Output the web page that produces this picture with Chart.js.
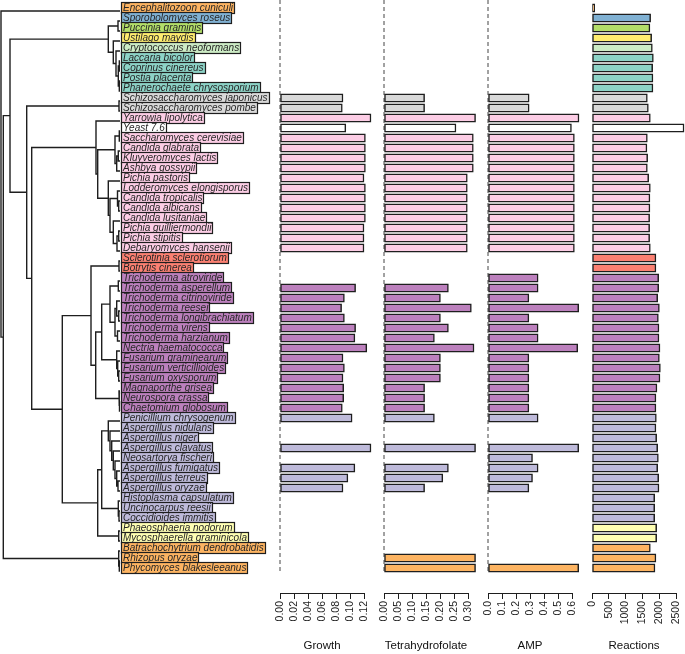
<!DOCTYPE html>
<html>
<head>
<meta charset="UTF-8" />
<title>Fungal models</title>
<script src="https://cdn.jsdelivr.net/npm/chart.js"></script>
<style>
  body { margin: 0; background: #fff; width: 685px; height: 654px; overflow: hidden; position: relative; }
  canvas { position: absolute; top: 0; }
</style>
</head>
<body>
<canvas id="tree" width="280" height="654" style="left:0px"></canvas>
<canvas id="growth" width="116" height="654" style="left:268px"></canvas>
<canvas id="thf" width="116" height="654" style="left:372px"></canvas>
<canvas id="amp" width="116" height="654" style="left:476px"></canvas>
<canvas id="reactions" width="116" height="654" style="left:580px"></canvas>

<script>
  const species = [
    'Encephalitozoon cuniculi', 'Sporobolomyces roseus', 'Puccinia graminis', 'Ustilago maydis',
    'Cryptococcus neoformans', 'Laccaria bicolor', 'Coprinus cinereus', 'Postia placenta',
    'Phanerochaete chrysosporium', 'Schizosaccharomyces japonicus', 'Schizosaccharomyces pombe',
    'Yarrowia lipolytica', 'Yeast 7.6', 'Saccharomyces cerevisiae', 'Candida glabrata',
    'Kluyveromyces lactis', 'Ashbya gossypii', 'Pichia pastoris', 'Lodderomyces elongisporus',
    'Candida tropicalis', 'Candida albicans', 'Candida lusitaniae', 'Pichia guilliermondii',
    'Pichia stipitis', 'Debaryomyces hansenii', 'Sclerotinia sclerotiorum', 'Botrytis cinerea',
    'Trichoderma atroviride', 'Trichoderma asperellum', 'Trichoderma citrinoviride', 'Trichoderma reesei',
    'Trichoderma longibrachiatum', 'Trichoderma virens', 'Trichoderma harzianum', 'Nectria haematococca',
    'Fusarium graminearum', 'Fusarium verticillioides', 'Fusarium oxysporum', 'Magnaporthe grisea',
    'Neurospora crassa', 'Chaetomium globosum', 'Penicillium chrysogenum', 'Aspergillus nidulans',
    'Aspergillus niger', 'Aspergillus clavatus', 'Neosartorya fischeri', 'Aspergillus fumigatus',
    'Aspergillus terreus', 'Aspergillus oryzae', 'Histoplasma capsulatum', 'Uncinocarpus reesii',
    'Coccidioides immitis', 'Phaeosphaeria nodorum', 'Mycosphaerella graminicola',
    'Batrachochytrium dendrobatidis', 'Rhizopus oryzae', 'Phycomyces blakesleeanus'
  ];

  // taxonomic group of each species (same order)
  const clade = [
    'Microsporidia', 'Microbotryomycetes', 'Pucciniomycetes', 'Ustilaginomycetes', 'Tremellomycetes',
    'Agaricomycetes', 'Agaricomycetes', 'Agaricomycetes', 'Agaricomycetes',
    'Schizosaccharomycetes', 'Schizosaccharomycetes', 'Saccharomycetes', 'Consensus',
    'Saccharomycetes', 'Saccharomycetes', 'Saccharomycetes', 'Saccharomycetes', 'Saccharomycetes',
    'Saccharomycetes', 'Saccharomycetes', 'Saccharomycetes', 'Saccharomycetes', 'Saccharomycetes',
    'Saccharomycetes', 'Saccharomycetes', 'Leotiomycetes', 'Leotiomycetes',
    'Sordariomycetes', 'Sordariomycetes', 'Sordariomycetes', 'Sordariomycetes', 'Sordariomycetes',
    'Sordariomycetes', 'Sordariomycetes', 'Sordariomycetes', 'Sordariomycetes', 'Sordariomycetes',
    'Sordariomycetes', 'Sordariomycetes', 'Sordariomycetes', 'Sordariomycetes',
    'Eurotiomycetes', 'Eurotiomycetes', 'Eurotiomycetes', 'Eurotiomycetes', 'Eurotiomycetes',
    'Eurotiomycetes', 'Eurotiomycetes', 'Eurotiomycetes', 'Eurotiomycetes', 'Eurotiomycetes',
    'Eurotiomycetes', 'Dothideomycetes', 'Dothideomycetes',
    'Chytridiomycetes', 'Mucoromycotina', 'Mucoromycotina'
  ];

  const growth = [
    null, null, null, null, null, null, null, null, null,
    0.090, 0.089, 0.130, 0.094, 0.122, 0.122, 0.122, 0.122, 0.120, 0.122, 0.122, 0.122, 0.122,
    0.120, 0.120, 0.120,
    null, null, null,
    0.108, 0.092, 0.088, 0.092, 0.108, 0.107, 0.124, 0.090, 0.092, 0.090, 0.091, 0.091, 0.089, 0.103,
    null, null, 0.130, null, 0.107, 0.097, 0.090,
    null, null, null, null, null, null, null, null
  ];
  const thf = [
    null, null, null, null, null, null, null, null, null,
    0.145, 0.145, 0.327, 0.257, 0.319, 0.319, 0.319, 0.319,
    0.2975, 0.2975, 0.2975, 0.2975, 0.2975, 0.2975, 0.2975, 0.2975,
    null, null, null,
    0.230, 0.2015, 0.312, 0.2015, 0.230, 0.180, 0.3215, 0.2015, 0.2015, 0.2015, 0.145, 0.145, 0.145, 0.180,
    null, null, 0.327, null, 0.230, 0.210, 0.145,
    null, null, null, null, null, null, 0.327, 0.327
  ];
  const amp = [
    null, null, null, null, null, null, null, null, null,
    0.294, 0.294, 0.650, 0.596,
    0.617, 0.617, 0.617, 0.617, 0.617, 0.617, 0.617, 0.617, 0.617, 0.617, 0.617, 0.617,
    null, null,
    0.358, 0.358, 0.292, 0.648, 0.292, 0.358, 0.358, 0.641, 0.292, 0.292, 0.292, 0.292, 0.292, 0.292, 0.358,
    null, null, 0.648, 0.318, 0.358, 0.318, 0.292,
    null, null, null, null, null, null, null, 0.648
  ];
  const reactions = [
    80, 1745, 1724, 1775, 1796, 1826, 1805, 1814, 1814, 1647, 1677, 1736, 2739, 1647, 1635, 1656,
    1647, 1686, 1736, 1724, 1724, 1715, 1715, 1715, 1736, 1903, 1903, 1984, 1984, 1954, 2005, 1975,
    1993, 1993, 2023, 2005, 2035, 2023, 1933, 1903, 1903, 1915, 1903, 1924, 1954, 1975, 1954, 1984,
    1993, 1865, 1865, 1865, 1924, 1924, 1736, 1903, 1874
  ];

  const growthTicks = [0, 0.02, 0.04, 0.06, 0.08, 0.10, 0.12];
  const thfTicks = [0, 0.05, 0.10, 0.15, 0.20, 0.25, 0.30];
  const ampTicks = [0, 0.1, 0.2, 0.3, 0.4, 0.5, 0.6];
  const reactionTicks = [0, 500, 1000, 1500, 2000, 2500];

  // dendrogram: [node depth, child, child]; a number is a tip (row of species)
  const tree =
    [1, 1,
      [3.3,
        [10,
          [108.3, [118, 2, 3],
            [113.3, 4,
              [116, 5,
                [118.3, [119.3, 6, 7], [119.3, 8, 9]]]]],
          [26.7, [119, 10, 11],
            [31.7,
              [96, 12,
                [97.7,
                  [115, [119.3, 13, 14], [116.7, [118.3, 15, 16], 17]],
                  [108.3, 18,
                    [110,
                      [117.5, 19, [118.7, 20, 21]],
                      [113.3, 22, [117, [118.7, 23, 24], 25]]]]]],
              [62.3,
                [91, [119, 26, 27],
                  [95.7,
                    [101.7,
                      [110, [118.3, 28, 29],
                        [115, [116.7, 30, [118.7, 31, 32]], [117.5, 33, 34]]],
                      [116.7, 35, [117.7, 36, [118.7, 37, 38]]]],
                    [119, 39, [119.5, 40, 41]]]],
                [97.7,
                  [101.7,
                    [108.3, 42, [110, 43, [111.7, 44, [113.3, 45, [115, 46, [116.7, 47, [118, 48, 49]]]]]]],
                    [118.3, 50, [119, 51, 52]]],
                  [118.7, 53, 54]]]]]],
        [118.7, 55, [119.3, 56, 57]]]];

  const palette = {
    Microsporidia: '#FDB462', Chytridiomycetes: '#FDB462', Mucoromycotina: '#FDB462',
    Microbotryomycetes: '#80B1D3', Pucciniomycetes: '#B3DE69', Ustilaginomycetes: '#FFED6F',
    Tremellomycetes: '#CCEBC5', Agaricomycetes: '#8DD3C7', Schizosaccharomycetes: '#D9D9D9',
    Saccharomycetes: '#FCCDE5', Consensus: '#FFFFFF', Leotiomycetes: '#FB8072',
    Sordariomycetes: '#BC80BD', Eurotiomycetes: '#BEBADA', Dothideomycetes: '#FFFFB3'
  };

  const FONT = '"Liberation Sans", Arial, sans-serif';
  const nRows = species.length;
  const TIP = 120;

  // turn the tree into one polyline per node, separated by gaps
  const treePts = [];
  function walk(node) {
    if (typeof node === 'number') return { x: TIP, y: node };
    const [h, a, b] = node;
    const pa = walk(a), pb = walk(b);
    treePts.push({ x: pa.x, y: pa.y }, { x: h, y: pa.y }, { x: h, y: pb.y }, { x: pb.x, y: pb.y }, { x: NaN, y: NaN });
    return { x: h, y: (pa.y + pb.y) / 2 };
  }
  walk(tree);

  const labelBoxes = {
    id: 'labelBoxes',
    afterDatasetsDraw(chart) {
      const { ctx } = chart;
      const yl = chart.scales.yl;
      const x0 = Math.round(chart.scales.x.getPixelForValue(TIP)) + 1;
      ctx.save();
      ctx.font = 'italic 10px ' + FONT;
      ctx.textBaseline = 'middle';
      ctx.lineWidth = 1.2;
      species.forEach((name, i) => {
        const y = Math.round(yl.getPixelForValue(i + 1));
        const w = Math.round(ctx.measureText(name).width) + 3;
        ctx.fillStyle = palette[clade[i]];
        ctx.fillRect(x0, y - 5, w, 11);
        ctx.strokeStyle = '#1e1e1e';
        ctx.strokeRect(x0 + 0.5, y - 5.5, w, 11);
        ctx.fillStyle = '#262626';
        ctx.fillText(name, x0 + 2, y + 0.5);
      });
      ctx.restore();
    }
  };

  new Chart(document.getElementById('tree'), {
    type: 'scatter',
    data: {
      datasets: [{
        data: treePts, showLine: true, spanGaps: false, borderColor: '#1e1e1e',
        borderWidth: 1.4, pointRadius: 0, clip: false
      }]
    },
    options: {
      responsive: false,
      animation: false,
      layout: { padding: { left: 0, right: 160, top: 3, bottom: 61 } },
      plugins: { legend: { display: false }, tooltip: { enabled: false } },
      scales: {
        x: { type: 'linear', display: false, min: 0, max: TIP },
        y: { type: 'linear', display: false, reverse: true, min: 0.2, max: nRows + 2.2 },
        yl: { type: 'linear', display: false, reverse: true, min: 0.5, max: nRows + 2.5 }
      }
    },
    plugins: [labelBoxes]
  });

  function panel(id, values, ticks, digits, title, zeroLine) {
    const pts = [];
    values.forEach((v, i) => { if (v !== null) pts.push({ x: v, y: i + 1 }); });
    const datasets = [{
      type: 'bar',
      data: pts,
      backgroundColor: pts.map(p => palette[clade[p.y - 1]]),
      borderColor: '#1e1e1e',
      borderWidth: 1.5,
      borderSkipped: false,
      barThickness: 8.5,
      clip: false,
      order: 1
    }];
    if (zeroLine) {
      datasets.push({
        type: 'line',
        data: [{ x: 0, y: 0.2 }, { x: 0, y: nRows + 0.3 }],
        borderColor: '#444', borderWidth: 1, borderDash: [4, 3],
        pointRadius: 0, clip: false, order: 2
      });
    }
    new Chart(document.getElementById(id), {
      type: 'bar',
      data: { datasets },
      options: {
        indexAxis: 'y',
        responsive: false,
        animation: false,
        layout: { padding: { left: 12, right: 20, top: 3, bottom: 0 } },
        plugins: { legend: { display: false }, tooltip: { enabled: false } },
        scales: {
          y: { type: 'linear', display: false, offset: false, reverse: true, min: 0.5, max: nRows + 2.5 },
          x: {
            type: 'linear',
            min: 0,
            max: ticks[ticks.length - 1],
            afterBuildTicks: s => { s.ticks = ticks.map(v => ({ value: v })); },
            afterFit: s => { s.height = 61; },
            grid: { drawOnChartArea: false, drawTicks: true, tickLength: 6, color: '#1e1e1e' },
            border: { display: true, color: '#1e1e1e', width: 1 },
            ticks: {
              autoSkip: false, minRotation: 90, maxRotation: 90, padding: 2, color: '#1e1e1e',
              font: { family: FONT, size: 10.5 },
              callback: v => Number(v).toFixed(digits)
            },
            title: {
              display: true, text: title, color: '#111',
              font: { family: FONT, size: 11.5 },
              padding: { top: 0, bottom: 1.5 }
            }
          }
        }
      }
    });
  }

  panel('growth', growth, growthTicks, 2, 'Growth', true);
  panel('thf', thf, thfTicks, 2, 'Tetrahydrofolate', true);
  panel('amp', amp, ampTicks, 1, 'AMP', true);
  panel('reactions', reactions, reactionTicks, 0, 'Reactions', false);
</script>
</body>
</html>
